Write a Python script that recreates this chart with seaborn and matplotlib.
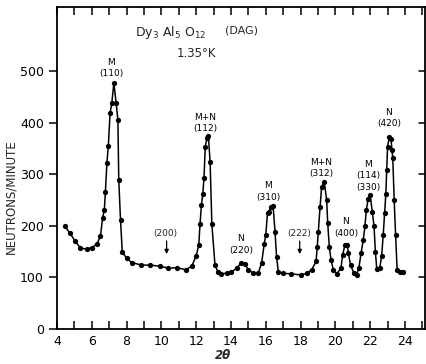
import matplotlib
matplotlib.use("Agg")
import matplotlib.pyplot as plt
import seaborn as sns
import pandas as pd
from matplotlib.ticker import MultipleLocator

two_theta = [4.45, 4.75, 5.05, 5.35, 5.7, 6.0, 6.3, 6.5, 6.62, 6.72, 6.78, 6.87, 6.95,
             7.05, 7.15, 7.27, 7.4, 7.5, 7.55, 7.65, 7.75, 8.0, 8.3, 8.85, 9.35, 9.9,
             10.4, 10.9, 11.4, 11.75, 12.0, 12.15, 12.22, 12.3, 12.38, 12.45, 12.52,
             12.62, 12.7, 12.8, 12.9, 13.08, 13.25, 13.45, 13.75, 14.0, 14.33, 14.6,
             14.8, 15.0, 15.28, 15.57, 15.76, 15.91, 16.0, 16.1, 16.18, 16.3, 16.42,
             16.53, 16.62, 16.72, 17.0, 17.45, 18.0, 18.35, 18.64, 18.89, 18.96, 19.02,
             19.12, 19.21, 19.36, 19.5, 19.56, 19.65, 19.75, 19.88, 20.07, 20.32, 20.42,
             20.55, 20.68, 20.75, 20.87, 21.07, 21.22, 21.35, 21.48, 21.6, 21.7, 21.78,
             21.88, 22.0, 22.12, 22.22, 22.3, 22.38, 22.55, 22.66, 22.75, 22.83, 22.9,
             22.95, 23.0, 23.1, 23.2, 23.25, 23.3, 23.38, 23.46, 23.55, 23.72, 23.9]
counts = [199, 186, 170, 157, 155, 158, 165, 181, 215, 231, 265, 323, 355,
          419, 438, 478, 438, 406, 289, 212, 150, 137, 129, 124, 124, 122,
          118, 119, 115, 122, 142, 163, 204, 240, 262, 293, 354,
          370, 374, 325, 204, 124, 111, 106, 109, 110, 118, 129,
          126, 115, 108, 109, 128, 165, 183, 225, 228, 237, 239,
          189, 140, 111, 108, 107, 105, 108, 115, 131, 160, 189,
          237, 276, 286, 250, 205, 160, 134, 115, 107, 118, 144,
          163, 163, 147, 124, 108, 105, 118, 148, 172, 200, 231,
          252, 260, 228, 200, 150, 116, 118, 142, 183, 225, 262,
          309, 354, 373, 368, 348, 331, 250, 183, 115, 110, 110]

peak_labels = ["M\n(110)", "M+N\n(112)", "N\n(220)", "M\n(310)", "M+N\n(312)",
               "N\n(400)", "M\n(114)\n(330)", "N\n(420)"]
peak_x = [7.1, 12.5, 14.57, 16.13, 19.2, 20.6, 21.87, 23.08]
peak_y = [487, 380, 144, 247, 293, 177, 266, 390]

absent_labels = ["(200)", "(222)"]
absent_x = [10.3, 17.95]

xticks = [4, 6, 8, 10, 12, 14, 16, 18, 20, 22, 24]
yticks = [0, 100, 200, 300, 400, 500]

sns.set_style("ticks")
plt.rcParams['font.family'] = ['DejaVu Sans']

df = pd.DataFrame({"two_theta": two_theta, "counts": counts})

fig = plt.figure(figsize=(4.26, 3.64), dpi=100)
ax = fig.add_axes([0.1338, 0.0962, 0.8638, 0.8846])

sns.lineplot(data=df, x="two_theta", y="counts", ax=ax, color="black",
             linewidth=1.1, marker="o", markersize=3.8, markeredgewidth=0,
             markerfacecolor="black", sort=True, estimator=None)

ax.set_xlim(4, 25.15)
ax.set_ylim(0, 625)
ax.set_xticks(xticks)
ax.set_xticklabels([str(t) for t in xticks])
ax.xaxis.set_minor_locator(MultipleLocator(1))
ax.set_yticks(yticks)
ax.set_yticklabels([str(t) for t in yticks])

for s in ax.spines.values():
    s.set_visible(True)
    s.set_linewidth(1.3)
    s.set_color("black")

ax.tick_params(axis="x", which="both", direction="in", top=True, bottom=True,
               length=6, width=1.1, labelsize=9, pad=4, colors="black")
ax.tick_params(axis="y", which="both", direction="out", left=True, right=False,
               length=6, width=1.1, labelsize=9, colors="black")
# right side inward ticks
for yv in yticks[1:]:
    ax.plot([25.15 - 0.35, 25.15], [yv, yv], color="black", lw=1.1,
            clip_on=False)

ax.set_xlabel("2θ", fontsize=8.5, fontweight="bold", style="italic")
ax.xaxis.set_label_coords(0.45, -0.062)
ax.set_ylabel("NEUTRONS/MINUTE", fontsize=8.5)
ax.yaxis.set_label_coords(-0.107, 0.41)

for lab, x, y in zip(peak_labels, peak_x, peak_y):
    ax.text(x, y, lab, ha="center", va="bottom", fontsize=6.5,
            linespacing=1.35, color="black")

for lab, x in zip(absent_labels, absent_x):
    ax.text(x - 0.05, 186, lab, ha="center", va="center", fontsize=6.5)
    ax.annotate("", xy=(x, 140), xytext=(x, 176),
                arrowprops=dict(arrowstyle="-|>", color="black", lw=0.9,
                                mutation_scale=6))

ax.text(8.5, 575, r"Dy$_3$ Al$_5$ O$_{12}$", fontsize=9, va="center", ha="left")
ax.text(13.65, 580, "(DAG)", fontsize=8, va="center", ha="left")
ax.text(10.9, 534, "1.35°K", fontsize=8.5, va="center", ha="left")

fig.savefig("out.png", dpi=100)
